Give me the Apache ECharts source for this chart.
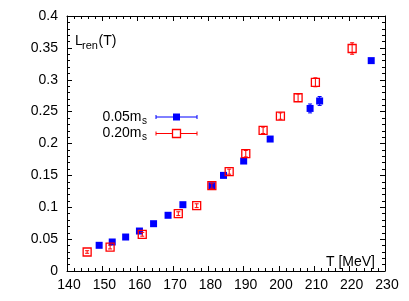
<!DOCTYPE html>
<html><head><meta charset="utf-8">
<script src="https://cdn.jsdelivr.net/npm/echarts@6/dist/echarts.min.js"></script>
<style>html,body{margin:0;padding:0;background:#fff}#c{width:409px;height:301px}</style>
</head><body><div id="c"></div>
<script>
// 0.05 m_s (blue filled squares)
const blueT = [149.1, 152.8, 156.6, 160.5, 164.5, 168.6, 172.8, 181.0, 184.3, 190.0, 197.5, 208.8, 211.5, 226.1];
const blueL = [0.0403, 0.0455, 0.0533, 0.0627, 0.0742, 0.0874, 0.104, 0.1338, 0.150, 0.1725, 0.207, 0.255, 0.2667, 0.330];
const blueE = [0.002, 0.002, 0.002, 0.002, 0.002, 0.002, 0.002, 0.003, 0.003, 0.003, 0.003, 0.007, 0.007, 0.003];
// 0.20 m_s (red open squares)
const redT = [145.7, 152.2, 161.3, 171.5, 176.7, 181.0, 185.9, 190.6, 195.5, 200.4, 205.4, 210.3, 220.7];
const redL = [0.0298, 0.0376, 0.0576, 0.0899, 0.1024, 0.1338, 0.1558, 0.184, 0.2207, 0.243, 0.2718, 0.296, 0.349];
const redE = [0.002, 0.003, 0.003, 0.003, 0.003, 0.004, 0.004, 0.005, 0.005, 0.005, 0.006, 0.007, 0.009];
// axes
const xRange = [140, 230], xStep = 10;
const yRange = [0, 0.4], yStep = 0.05;
const seriesNames = ['0.05m', '0.20m'];
const seriesSub = 's';
const yTitle = ['L', 'ren', '(T)'];
const xTitle = 'T [MeV]';

const FONT = '"Liberation Sans", Arial, Helvetica, sans-serif';
const blue = '#0000ff', red = '#ff0000';

function errRender(color, capW) {
  return function (params, api) {
    const x = api.value(0), y = api.value(1), e = api.value(2);
    const hi = api.coord([x, y + e]);
    const lo = api.coord([x, y - e]);
    const st = { stroke: color, lineWidth: 1 };
    return {
      type: 'group',
      children: [
        { type: 'line', shape: { x1: hi[0], y1: hi[1], x2: lo[0], y2: lo[1] }, style: st },
        { type: 'line', shape: { x1: hi[0] - capW, y1: hi[1], x2: hi[0] + capW, y2: hi[1] }, style: st },
        { type: 'line', shape: { x1: lo[0] - capW, y1: lo[1], x2: lo[0] + capW, y2: lo[1] }, style: st }
      ]
    };
  };
}

const blueData = blueT.map((t, i) => [t, blueL[i], blueE[i]]);
const redData = redT.map((t, i) => [t, redL[i], redE[i]]);

const axisCommon = {
  axisLine: { show: true, onZero: false, lineStyle: { color: '#000', width: 1 } },
  axisTick: { show: true, inside: true, length: 5, lineStyle: { color: '#000', width: 1 } },
  minorTick: { show: true, splitNumber: 5, length: 3, lineStyle: { color: '#000', width: 1 } },
  splitLine: { show: false },
  minorSplitLine: { show: false }
};

const chart = echarts.init(document.getElementById('c'), null, { renderer: 'canvas' });
chart.setOption({
  animation: false,
  backgroundColor: '#fff',
  grid: { left: 67, right: 24, top: 16, bottom: 30, containLabel: false },
  xAxis: [
    Object.assign({ type: 'value', position: 'bottom', min: xRange[0], max: xRange[1], interval: xStep,
      axisLabel: { color: '#000', fontSize: 14, fontFamily: FONT, margin: 7, padding: [0, 0, 0, 4] } }, axisCommon),
    Object.assign({ type: 'value', position: 'top', min: xRange[0], max: xRange[1], interval: xStep,
      axisLabel: { show: false } }, axisCommon)
  ],
  yAxis: [
    Object.assign({ type: 'value', position: 'left', min: yRange[0], max: yRange[1], interval: yStep,
      axisLabel: { color: '#000', fontSize: 14, fontFamily: FONT, margin: 9 } }, axisCommon),
    Object.assign({ type: 'value', position: 'right', min: yRange[0], max: yRange[1], interval: yStep,
      axisLabel: { show: false } }, axisCommon)
  ],
  series: [
    { name: 'blueErr', type: 'custom', renderItem: errRender(blue, 2), data: blueData, z: 2 },
    { name: seriesNames[0], type: 'scatter', symbol: 'rect', symbolSize: 7, data: blueData,
      itemStyle: { color: blue, opacity: 1 }, z: 3 },
    { name: seriesNames[1], type: 'scatter', symbol: 'rect', symbolSize: 8, data: redData,
      itemStyle: { color: 'rgba(0,0,0,0)', borderColor: red, borderWidth: 1.3, opacity: 1 }, z: 4 },
    { name: 'redErr', type: 'custom', renderItem: errRender(red, 2), data: redData, z: 5 }
  ],
  graphic: [
    // y title
    { type: 'text', x: 75, y: 41, style: { text: yTitle[0], font: '14px ' + FONT, fill: '#000', textAlign: 'left', textVerticalAlign: 'middle' } },
    { type: 'text', x: 82, y: 46, style: { text: yTitle[1], font: '11px ' + FONT, fill: '#000', textAlign: 'left', textVerticalAlign: 'middle' } },
    { type: 'text', x: 98.5, y: 41, style: { text: yTitle[2], font: '14px ' + FONT, fill: '#000', textAlign: 'left', textVerticalAlign: 'middle' } },
    // x title
    { type: 'text', x: 375, y: 262, style: { text: xTitle, font: '14px ' + FONT, fill: '#000', textAlign: 'right', textVerticalAlign: 'middle' } },
    // legend blue
    { type: 'text', x: 141.5, y: 117, style: { text: seriesNames[0], font: '14px ' + FONT, fill: '#000', textAlign: 'right', textVerticalAlign: 'middle' } },
    { type: 'text', x: 142, y: 121, style: { text: seriesSub, font: '10px ' + FONT, fill: '#000', textAlign: 'left', textVerticalAlign: 'middle' } },
    { type: 'line', shape: { x1: 156, y1: 117, x2: 197, y2: 117 }, style: { stroke: blue, lineWidth: 1 } },
    { type: 'line', shape: { x1: 156, y1: 115, x2: 156, y2: 119 }, style: { stroke: blue, lineWidth: 1 } },
    { type: 'line', shape: { x1: 197, y1: 115, x2: 197, y2: 119 }, style: { stroke: blue, lineWidth: 1 } },
    { type: 'rect', shape: { x: 173, y: 113.5, width: 7, height: 7 }, style: { fill: blue } },
    // legend red
    { type: 'text', x: 141.5, y: 133.5, style: { text: seriesNames[1], font: '14px ' + FONT, fill: '#000', textAlign: 'right', textVerticalAlign: 'middle' } },
    { type: 'text', x: 142, y: 137.5, style: { text: seriesSub, font: '10px ' + FONT, fill: '#000', textAlign: 'left', textVerticalAlign: 'middle' } },
    { type: 'line', shape: { x1: 156, y1: 133.5, x2: 197, y2: 133.5 }, style: { stroke: red, lineWidth: 1 } },
    { type: 'line', shape: { x1: 156, y1: 131.5, x2: 156, y2: 135.5 }, style: { stroke: red, lineWidth: 1 } },
    { type: 'line', shape: { x1: 197, y1: 131.5, x2: 197, y2: 135.5 }, style: { stroke: red, lineWidth: 1 } },
    { type: 'rect', shape: { x: 172.5, y: 129.5, width: 8, height: 8 }, style: { fill: '#fff', stroke: red, lineWidth: 1.3 } }
  ]
});
</script>
</body></html>
